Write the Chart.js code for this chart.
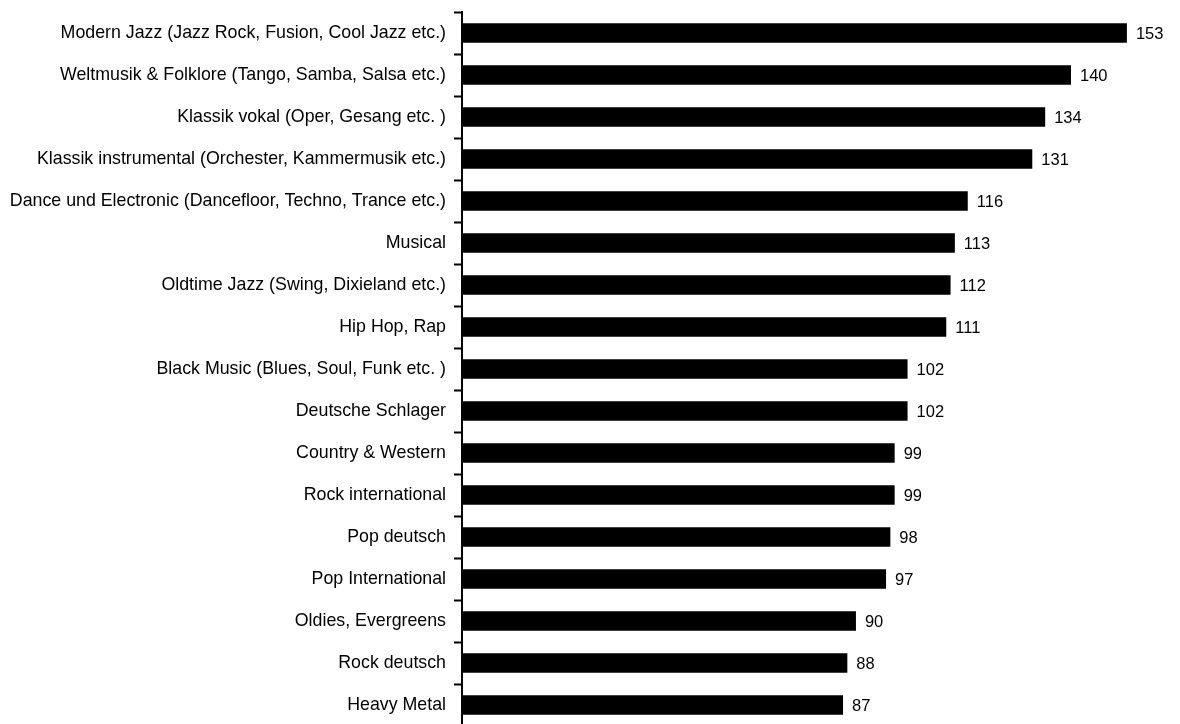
<!DOCTYPE html>
<html>
<head>
<meta charset="utf-8">
<script src="https://cdn.jsdelivr.net/npm/chart.js@4/dist/chart.umd.min.js"></script>
<style>
  html, body { margin: 0; padding: 0; background: #fff; overflow: hidden; }
  #wrap { width: 1180px; height: 738px; }
</style>
</head>
<body>
<div id="wrap"><canvas id="c" width="1180" height="738"></canvas></div>
<script>
// Music genres and their index values
const genres = [
  "Modern Jazz (Jazz Rock, Fusion, Cool Jazz etc.)",
  "Weltmusik & Folklore (Tango, Samba, Salsa etc.)",
  "Klassik vokal (Oper, Gesang etc. )",
  "Klassik instrumental (Orchester, Kammermusik etc.)",
  "Dance und Electronic (Dancefloor, Techno, Trance etc.)",
  "Musical",
  "Oldtime Jazz (Swing, Dixieland etc.)",
  "Hip Hop, Rap",
  "Black Music (Blues, Soul, Funk etc. )",
  "Deutsche Schlager",
  "Country & Western",
  "Rock international",
  "Pop deutsch",
  "Pop International",
  "Oldies, Evergreens",
  "Rock deutsch",
  "Heavy Metal"
];
const indexValues = [153, 140, 134, 131, 116, 113, 112, 111, 102, 102, 99, 99, 98, 97, 90, 88, 87];

const AXIS_MIN = -1.6;
const AXIS_MAX = 160;

// Writes each bar's value just past its end
const valueLabels = {
  id: 'valueLabels',
  afterDatasetsDraw(chart) {
    const ctx = chart.ctx;
    const meta = chart.getDatasetMeta(0);
    ctx.save();
    ctx.font = '16.5px "Liberation Sans", Arial, sans-serif';
    ctx.fillStyle = '#000';
    ctx.textAlign = 'left';
    ctx.textBaseline = 'middle';
    meta.data.forEach((bar, i) => {
      ctx.fillText(String(indexValues[i]), bar.x + 9, bar.y + 1);
    });
    ctx.restore();
  }
};

new Chart(document.getElementById('c'), {
  type: 'bar',
  data: {
    labels: genres,
    datasets: [{
      data: indexValues,
      base: AXIS_MIN,
      backgroundColor: '#000',
      borderWidth: 0,
      categoryPercentage: 1,
      barPercentage: 0.46
    }]
  },
  options: {
    indexAxis: 'y',
    responsive: false,
    animation: false,
    devicePixelRatio: 1,
    layout: { padding: { top: 12, right: 23, bottom: 12, left: 0 } },
    plugins: {
      legend: { display: false },
      tooltip: { enabled: false }
    },
    scales: {
      x: {
        display: false,
        min: AXIS_MIN,
        max: AXIS_MAX
      },
      y: {
        offset: true,
        afterFit(scale) { scale.width = 462; },
        border: { display: true, color: '#000', width: 2 },
        grid: {
          offset: true,
          drawOnChartArea: false,
          drawTicks: true,
          tickLength: 8,
          tickWidth: 2,
          tickColor: '#000'
        },
        ticks: {
          color: '#000',
          padding: 8,
          autoSkip: false,
          font: { family: '"Liberation Sans", Arial, sans-serif', size: 17.8, lineHeight: 0.4 }
        }
      }
    }
  },
  plugins: [valueLabels]
});
</script>
</body>
</html>
